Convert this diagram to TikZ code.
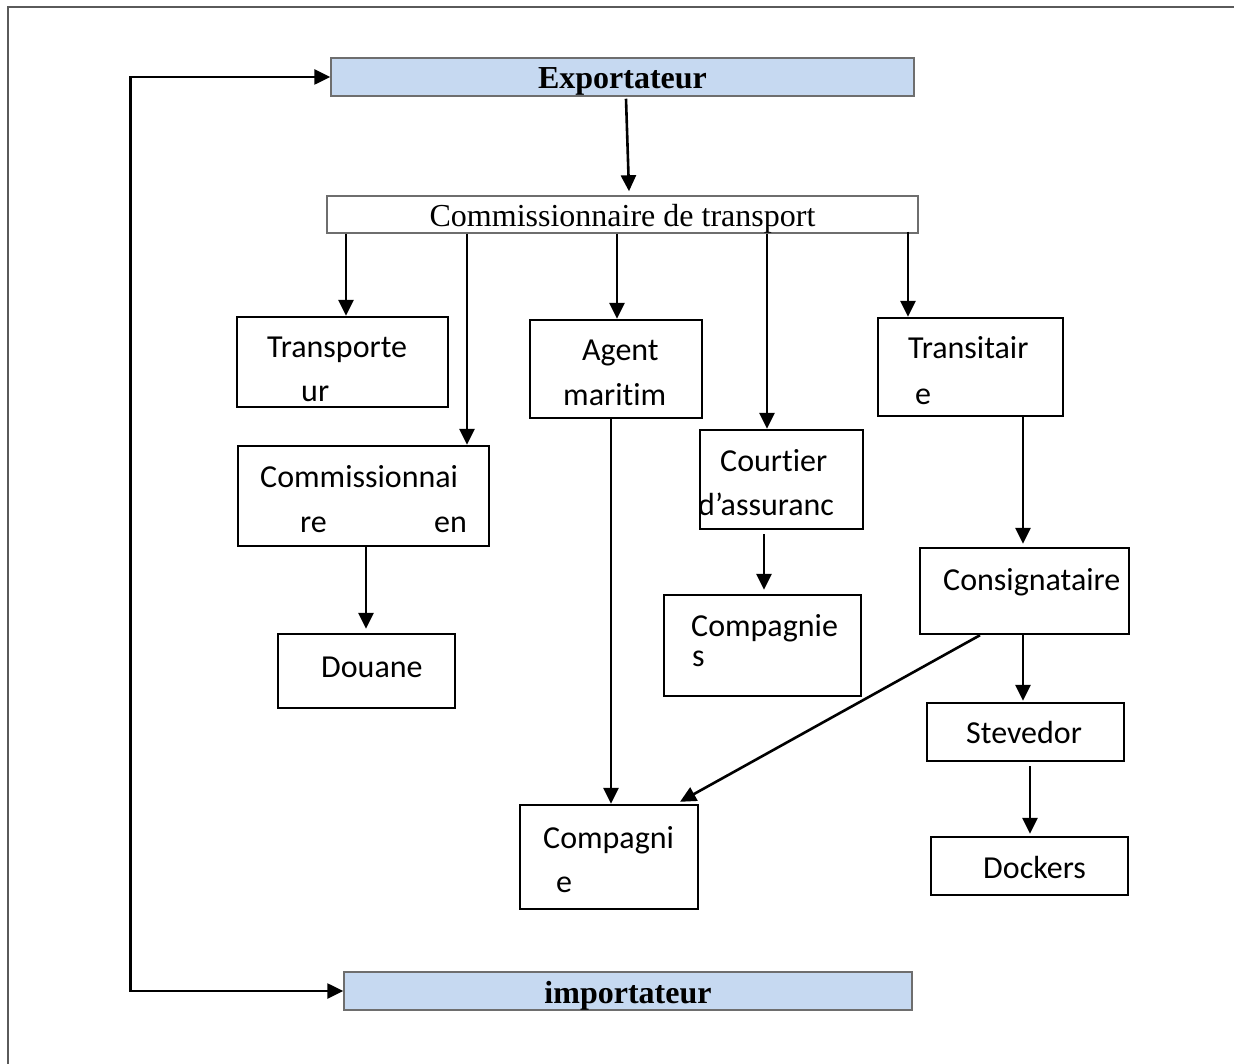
\documentclass[tikz,border=0pt]{standalone}
\usepackage{fontspec}
\setmainfont{Liberation Serif}
\newfontfamily\calib[Ligatures=NoCommon]{Carlito}
\usetikzlibrary{arrows.meta,calc}
\definecolor{hdrblue}{HTML}{C6D9F1}
\definecolor{hdrgray}{HTML}{6E6E6E}
\definecolor{framegray}{HTML}{5A5A5A}
\tikzset{
  box/.style={draw=black, line width=2.4pt, rectangle, inner sep=0pt},
  hdr/.style={draw=hdrgray, line width=1.5pt, rectangle, inner sep=0pt,
    font=\fontsize{32}{36}\selectfont, text height=24pt, text depth=0pt},
  lbl/.style={anchor=base west, inner sep=0pt, font=\calib\fontsize{32}{45}\selectfont},
  tip/.style={Triangle[length=16pt,width=15pt]},
  arr/.style={line width=2.6pt, -{Triangle[length=16pt,width=15pt]}},
}
\begin{document}
\begin{tikzpicture}[x=1pt,y=-1pt]
\useasboundingbox (0,0) rectangle (1234,1064);
% page frame
\draw[framegray, line width=1.8pt] (1234,7) -- (8,7) -- (8,1064);

% header boxes
\node[hdr, fill=hdrblue, minimum width=583pt, minimum height=38pt] (exp) at (622.5,77) {\bfseries Exportateur};
\node[hdr, fill=white, minimum width=591pt, minimum height=37pt] (comm) at (622.5,214.5) {Commissionnaire de transport};
\node[hdr, fill=hdrblue, minimum width=568pt, minimum height=38pt] (imp) at (628,991) {\bfseries importateur};

% boxes
\node[box, minimum width=211pt, minimum height=90pt] (trp) at (342.5,362) {};
\node[box, minimum width=251pt, minimum height=100pt] (cen) at (363.5,496) {};
\node[box, minimum width=177pt, minimum height=74pt] (dou) at (366.5,671) {};
\node[box, minimum width=172pt, minimum height=98pt] (agt) at (616,369) {};
\node[box, minimum width=163pt, minimum height=99pt] (crt) at (781.5,479.5) {};
\node[box, minimum width=197pt, minimum height=101pt] (cps) at (762.5,645.5) {};
\node[box, minimum width=185pt, minimum height=98pt] (trs) at (970.5,367) {};
\node[box, minimum width=209pt, minimum height=86pt] (csg) at (1024.5,591) {};
\node[box, minimum width=197pt, minimum height=58pt] (stv) at (1025.5,732) {};
\node[box, minimum width=197pt, minimum height=58pt] (dck) at (1029.5,866) {};
\node[box, minimum width=178pt, minimum height=104pt] (cpe) at (609,857) {};

% labels
\node[lbl] (trp1) at (267,358) {Transporte};
\node[lbl] (trp2) at (301,402) {ur};
\node[lbl] (cen1) at (260,487) {Commissionnai};
\node[lbl] (cen2) at (300,532) {re};
\node[lbl] (cen3) at (434,532) {en};
\node[lbl] (dou1) at (321,677) {Douane};
\node[lbl] (agt1) at (582,361) {Agent};
\node[lbl] (agt2) at (563,406) {maritim};
\node[lbl] (crt1) at (720,471) {Courtier};
\node[lbl] (crt2) at (698,515) {d’assuranc};
\node[lbl] (cps1) at (691,636) {Compagnie};
\node[lbl] (cps2) at (692,666) {s};
\node[lbl] (trs1) at (908,359) {Transitair};
\node[lbl] (trs2) at (915,404) {e};
\node[lbl] (csg1) at (943,590) {Consignataire};
\node[lbl] (stv1) at (966,743) {Stevedor};
\node[lbl] (dck1) at (983,878) {Dockers};
\node[lbl] (cpe1) at (543,848) {Compagni};
\node[lbl] (cpe2) at (556,892) {e};

% loop between exportateur and importateur
\draw[line width=2.6pt, {Triangle[length=16pt,width=15pt]}-{Triangle[length=16pt,width=15pt]}]
  (exp.west) -- ++(-200,0) |- (imp.west);

% connectors
\draw[arr] ($(exp.south)+(3.5,2)$) -- ($(comm.north)+(6.5,-4)$);
\draw[arr] ($(comm.south)+(-276.5,0)$) -- ($(trp.north)+(3.5,0)$);
\draw[arr] ($(comm.south)+(-155.5,0)$) -- ($(cen.north)+(103.5,0)$);
\draw[arr] ($(comm.south)+(-5.5,0)$) -- ($(agt.north)+(1,0)$);
\draw[arr] ($(comm.south)+(144.5,0)$) -- ($(crt.north)+(-14.5,0)$);
\draw[arr] ($(comm.south)+(285.5,-2)$) -- ($(trs.north)+(-62.5,0)$);
\draw[arr] ($(cen.south)+(2.5,0)$) -- ($(dou.north)+(-0.5,-4)$);
\draw[arr] ($(agt.south)+(-5,0)$) -- ($(cpe.north)+(2,0)$);
\draw[arr] ($(crt.south)+(-17.5,4)$) -- ($(cps.north)+(1.5,-4)$);
\draw[arr] ($(trs.south)+(52.5,0)$) -- ($(csg.north)+(-1.5,-3)$);
\draw[arr] ($(csg.south)+(-1.5,0)$) -- ($(stv.north)+(-2.5,-1)$);
\draw[arr] ($(stv.south)+(4.5,4)$) -- ($(dck.north)+(0.5,-2)$);
\draw[arr] ($(csg.south)+(-44.5,0)$) -- ($(cpe.north)+(71,-2)$);
\end{tikzpicture}
\end{document}
